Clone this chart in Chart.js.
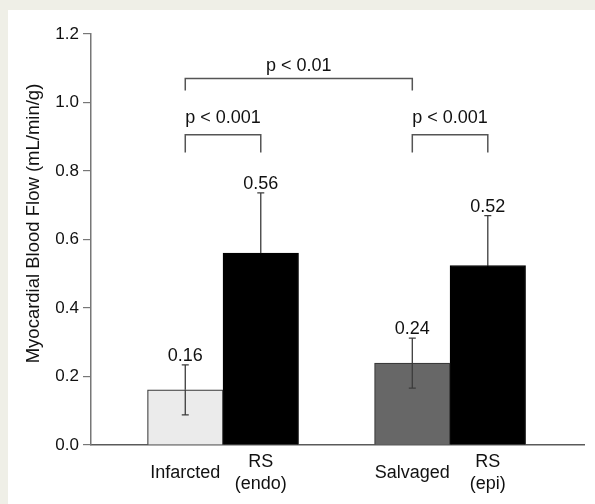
<!DOCTYPE html>
<html><head><meta charset="utf-8">
<script src="https://cdn.jsdelivr.net/npm/chart.js@4"></script>
<style>
html,body{margin:0;padding:0;background:#efefe7;width:595px;height:504px;overflow:hidden}
#wrap{position:absolute;left:8px;top:10px;width:587px;height:494px;background:#fff}
canvas{display:block}
</style></head><body>
<div id="wrap"><canvas id="c" width="587" height="494"></canvas></div>
<script>
// ---- data ----
const categories = ['Infarcted', ['RS', '(endo)'], 'Salvaged', ['RS', '(epi)']];
const groupPositions = [1, 2];
const tissueValues = [0.161, 0.239];   // Infarcted, Salvaged
const tissueErrors = [0.073, 0.073];
const rsValues = [0.56, 0.524];        // RS (endo), RS (epi)
const rsErrors = [0.176, 0.146];
const yTicks = [0, 0.2, 0.4, 0.6, 0.8, 1.0, 1.2];
const yTitle = 'Myocardial Blood Flow (mL/min/g)';
// comparisons: bar indices in category order
const comparisonPairs = [[0, 1], [2, 3], [0, 2]];
const comparisonLabels = ['p < 0.001', 'p < 0.001', 'p < 0.01'];
const bracketLevels = [0.906, 0.906, 1.070];
const bracketDrops = [0.854, 0.854, 1.035];
const bracketTextLevels = [0.941, 0.941, 1.092];

const FONT = '"Liberation Sans", Arial, sans-serif';
const BAR_W = 75.5;

function barElement(chart, k) {
  // category order: tissue0, rs0, tissue1, rs1
  const ds = k % 2, idx = Math.floor(k / 2);
  return chart.getDatasetMeta(ds).data[idx];
}

const errorBarPlugin = {
  id: 'errbars',
  afterDatasetsDraw(chart) {
    const {ctx} = chart, y = chart.scales.y;
    ctx.save();
    chart.data.datasets.forEach((ds, di) => {
      const meta = chart.getDatasetMeta(di);
      meta.data.forEach((bar, i) => {
        const v = ds.data[i].y, e = ds.errors[i];
        const yt = y.getPixelForValue(v + e), yc = y.getPixelForValue(v), yb = y.getPixelForValue(v - e);
        ctx.lineWidth = 1.3;
        ctx.strokeStyle = '#3c3c3c';
        ctx.beginPath();
        ctx.moveTo(bar.x, yt); ctx.lineTo(bar.x, yc);
        ctx.moveTo(bar.x - 3.5, yt); ctx.lineTo(bar.x + 3.5, yt);
        ctx.stroke();
        ctx.strokeStyle = ds.errorBelowColor || '#3c3c3c';
        ctx.beginPath();
        ctx.moveTo(bar.x, yc); ctx.lineTo(bar.x, yb);
        ctx.moveTo(bar.x - 3.5, yb); ctx.lineTo(bar.x + 3.5, yb);
        ctx.stroke();
        ctx.fillStyle = '#111';
        ctx.font = '18px ' + FONT;
        ctx.textAlign = 'center'; ctx.textBaseline = 'alphabetic';
        ctx.fillText(v.toFixed(2), bar.x, yt - 4);
      });
    });
    ctx.restore();
  }
};

const bracketPlugin = {
  id: 'brackets',
  afterDatasetsDraw(chart) {
    const {ctx} = chart, y = chart.scales.y;
    ctx.save();
    comparisonPairs.forEach((pair, j) => {
      const x1 = barElement(chart, pair[0]).x, x2 = barElement(chart, pair[1]).x;
      const yl = y.getPixelForValue(bracketLevels[j]);
      const yd = y.getPixelForValue(bracketDrops[j]);
      ctx.strokeStyle = '#555'; ctx.lineWidth = 1.5;
      ctx.beginPath();
      ctx.moveTo(x1, yd); ctx.lineTo(x1, yl); ctx.lineTo(x2, yl); ctx.lineTo(x2, yd);
      ctx.stroke();
      ctx.fillStyle = '#111';
      ctx.font = '18px ' + FONT;
      ctx.textAlign = 'center'; ctx.textBaseline = 'alphabetic';
      ctx.fillText(comparisonLabels[j], (x1 + x2) / 2, y.getPixelForValue(bracketTextLevels[j]));
    });
    ctx.restore();
  }
};

const yTitlePlugin = {
  id: 'ytitle',
  afterDraw(chart) {
    const {ctx, chartArea} = chart;
    ctx.save();
    ctx.translate(26, (chartArea.top + chartArea.bottom) / 2 - 16);
    ctx.rotate(-Math.PI / 2);
    ctx.fillStyle = '#111';
    ctx.font = '18.5px ' + FONT;
    ctx.textAlign = 'center'; ctx.textBaseline = 'middle';
    ctx.fillText(yTitle, 0, 0);
    ctx.restore();
  }
};

new Chart(document.getElementById('c'), {
  type: 'bar',
  data: {
    datasets: [
      {
        label: 'Tissue',
        data: groupPositions.map((x, i) => ({x, y: tissueValues[i]})),
        errors: tissueErrors,
        backgroundColor: ['#ebebeb', '#676767'],
        borderColor: '#3a3a3a', borderWidth: 1.2,
        barThickness: BAR_W
      },
      {
        label: 'RS',
        data: groupPositions.map((x, i) => ({x, y: rsValues[i]})),
        errors: rsErrors,
        errorBelowColor: '#000',
        backgroundColor: '#000', borderColor: '#000', borderWidth: 1,
        barThickness: BAR_W
      }
    ]
  },
  options: {
    responsive: false, animation: false, devicePixelRatio: 1,
    layout: {padding: {top: 24, right: 11, left: 0, bottom: 0}},
    plugins: {legend: {display: false}, tooltip: {enabled: false}},
    scales: {
      x: {
        type: 'linear', min: 0.4185, max: 2.59, offset: false,
        grid: {display: false, drawTicks: false},
        border: {display: true, color: '#5a5a5a', width: 1.5},
        afterBuildTicks(scale) {
          const unit = scale.width / (scale.max - scale.min);
          const d = (BAR_W / 2) / unit;
          const t = [];
          groupPositions.forEach(g => { t.push({value: g - d}); t.push({value: g + d}); });
          scale.ticks = t;
        },
        ticks: {
          autoSkip: false, maxRotation: 0, minRotation: 0, crossAlign: 'center', padding: 17,
          color: '#111', font: {family: FONT, size: 18},
          callback: (v, i) => categories[i]
        },
        afterFit(s) { s.height = 59; }
      },
      y: {
        min: 0, max: 1.2,
        afterBuildTicks(s) { s.ticks = yTicks.map(v => ({value: v})); },
        ticks: {
          callback: v => v.toFixed(1), padding: 4,
          color: '#111', font: {family: FONT, size: 17}
        },
        grid: {drawOnChartArea: false, drawTicks: true, tickLength: 8, color: '#777', lineWidth: 1.2},
        border: {color: '#777', width: 1.5},
        title: {display: false},
        afterFit(s) { s.width = 83; }
      }
    }
  },
  plugins: [errorBarPlugin, bracketPlugin, yTitlePlugin]
});
</script>
</body></html>
